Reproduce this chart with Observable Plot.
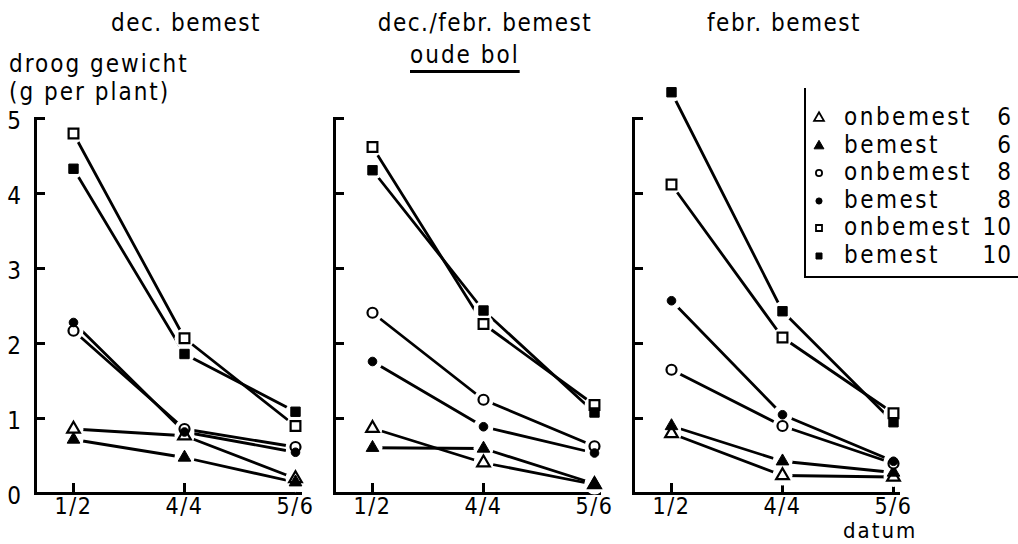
<!DOCTYPE html>
<html>
<head>
<meta charset="utf-8">
<script src="https://cdn.jsdelivr.net/npm/d3@7"></script>
<script src="https://cdn.jsdelivr.net/npm/@observablehq/plot@0.6"></script>
<style>
  html, body { margin: 0; padding: 0; background: white; }
  #wrap { position: relative; width: 1018px; height: 544px; overflow: hidden; background: white;
          font-family: 'DejaVu Sans Condensed', 'DejaVu Sans', sans-serif; color: black; }
  #wrap svg text { letter-spacing: 1.5px; }
  .lbl { position: absolute; font-size: 24px; line-height: 24px; letter-spacing: 2px; white-space: nowrap; }
  #legend { position: absolute; left: 804px; top: 88px; width: 214px; height: 188px;
            border-left: 2px solid black; border-bottom: 2px solid black; }
  .row { position: absolute; left: 0; width: 206px; height: 26px; font-size: 24px; line-height: 26px; letter-spacing: 2.5px; }
  .row svg { position: absolute; left: 6px; top: 6px; }
  .row .name { position: absolute; left: 38px; }
  .row .num { position: absolute; right: 0; letter-spacing: 1px; }
</style>
</head>
<body>
<div id="wrap"></div>
<script>
// ---- data ----
const panels = ["dec. bemest", "dec./febr. bemest", "febr. bemest"];
const dates = ["1/2", "4/4", "5/6"];
const seriesNames = ["onbemest 6", "bemest 6", "onbemest 8", "bemest 8", "onbemest 10", "bemest 10"];
const legendLabels = ["onbemest", "bemest", "onbemest", "bemest", "onbemest", "bemest"];
const legendNumbers = ["6", "6", "8", "8", "10", "10"];
const yTicks = [0, 1, 2, 3, 4, 5];

// values per series, one entry per date (1/2, 4/4, 5/6)
const decBemest = {
  "onbemest 6":  [0.86, 0.77, 0.20],
  "bemest 6":    [0.72, 0.48, 0.15],
  "onbemest 8":  [2.17, 0.86, 0.62],
  "bemest 8":    [2.28, 0.82, 0.55],
  "onbemest 10": [4.80, 2.07, 0.90],
  "bemest 10":   [4.33, 1.86, 1.09]
};
const decFebrBemest = {
  "onbemest 6":  [0.87, 0.41, 0.12],
  "bemest 6":    [0.61, 0.60, 0.13],
  "onbemest 8":  [2.41, 1.25, 0.63],
  "bemest 8":    [1.76, 0.89, 0.54],
  "onbemest 10": [4.62, 2.26, 1.18],
  "bemest 10":   [4.31, 2.44, 1.08]
};
const febrBemest = {
  "onbemest 6":  [0.80, 0.24, 0.22],
  "bemest 6":    [0.90, 0.43, 0.28],
  "onbemest 8":  [1.65, 0.90, 0.40],
  "bemest 8":    [2.57, 1.05, 0.43],
  "onbemest 10": [4.12, 2.08, 1.07],
  "bemest 10":   [5.35, 2.43, 0.95]
};
const panelValues = [decBemest, decFebrBemest, febrBemest];

// ---- styles (kept apart from data) ----
const markerStyle = {
  "onbemest 6":  {symbol: "triangle", filled: false, r: 4.7},
  "bemest 6":    {symbol: "triangle", filled: true,  r: 4.7},
  "onbemest 8":  {symbol: "circle",   filled: false, r: 5},
  "bemest 8":    {symbol: "circle",   filled: true,  r: 4.3},
  "onbemest 10": {symbol: "square",   filled: false, r: 5.5},
  "bemest 10":   {symbol: "square",   filled: true,  r: 5.3}
};

// ---- table ----
const rows = [];
panels.forEach((p, i) => {
  seriesNames.forEach(s => {
    dates.forEach((d, j) => rows.push({panel: p, series: s, date: d, value: panelValues[i][s][j]}));
  });
});

const noText = () => "";

const markerMarks = seriesNames.map(s => {
  const st = markerStyle[s];
  return Plot.dot(rows.filter(d => d.series === s), {
    fx: "panel", x: "date", y: "value",
    symbol: st.symbol, r: st.r,
    fill: st.filled ? "black" : "white",
    stroke: "black", strokeWidth: st.filled ? 1 : 2.2
  });
});

const chart = Plot.plot({
  width: 1018,
  height: 544,
  marginTop: 118,
  marginBottom: 51,
  marginLeft: 34,
  marginRight: 118,
  style: {fontFamily: "'DejaVu Sans Condensed', 'DejaVu Sans', sans-serif", fontSize: "23px", background: "white", color: "black"},
  fx: {domain: panels, paddingInner: 0.113, paddingOuter: 0, label: null},
  x: {domain: dates, type: "point", padding: 0, insetLeft: 38, insetRight: 5, label: null},
  y: {domain: [0, 5], label: null},
  marks: [
    Plot.axisFx({anchor: "top", tickSize: 0, tickPadding: 0, dy: -88, dx: 18, fontSize: 24, label: null}),
    Plot.axisY({ticks: yTicks, tickFormat: d => String(d), facetAnchor: "left", tickSize: 0, tickPadding: 13, dy: 3, fontSize: 24, label: null}),
    Plot.axisY({ticks: yTicks, facetAnchor: null, tickSize: -10, tickFormat: noText, strokeWidth: 3, label: null}),
    Plot.axisX({tickSize: 0, tickPadding: 4, fontSize: 23, label: null}),
    Plot.axisX({tickSize: -10, tickFormat: noText, strokeWidth: 3, label: null}),
    Plot.frame({anchor: "left", strokeWidth: 3}),
    Plot.frame({anchor: "bottom", strokeWidth: 3}),
    Plot.line(rows, {fx: "panel", x: "date", y: "value", z: "series", stroke: "black", strokeWidth: 2.8}),
    Plot.dot(rows, {fx: "panel", x: "date", y: "value", r: 10, fill: "white"}),
    ...markerMarks
  ]
});

const wrap = document.getElementById("wrap");
wrap.appendChild(chart);

function addLabel(text, left, top, extra) {
  const el = document.createElement("div");
  el.className = "lbl";
  el.textContent = text;
  el.style.left = left + "px";
  el.style.top = top + "px";
  if (extra) Object.assign(el.style, extra);
  wrap.appendChild(el);
  return el;
}
addLabel("droog gewicht", 9, 52);
addLabel("(g per plant)", 9, 80);
addLabel("oude bol", 410, 43, {textDecoration: "underline", textUnderlineOffset: "7px", textDecorationThickness: "2.5px"});
addLabel("datum", 843, 522, {fontSize: "22px", lineHeight: "18px"});

// legend
const legend = document.createElement("div");
legend.id = "legend";
wrap.appendChild(legend);
seriesNames.forEach((s, i) => {
  const st = markerStyle[s];
  const row = document.createElement("div");
  row.className = "row";
  row.style.top = (16 + i * 27.6) + "px";
  const sz = st.symbol === "triangle" ? 42 : st.symbol === "square" ? 36 : 30;
  const sym = d3.create("svg").attr("width", 14).attr("height", 14);
  sym.append("path")
    .attr("transform", "translate(7,8)")
    .attr("d", d3.symbol(st.symbol === "triangle" ? d3.symbolTriangle : st.symbol === "square" ? d3.symbolSquare : d3.symbolCircle, sz)())
    .attr("fill", st.filled ? "black" : "white")
    .attr("stroke", "black")
    .attr("stroke-width", st.filled ? 1 : 1.8);
  row.appendChild(sym.node());
  const name = document.createElement("span");
  name.className = "name";
  name.textContent = legendLabels[i];
  row.appendChild(name);
  const num = document.createElement("span");
  num.className = "num";
  num.textContent = legendNumbers[i];
  row.appendChild(num);
  legend.appendChild(row);
});
</script>
</body>
</html>
